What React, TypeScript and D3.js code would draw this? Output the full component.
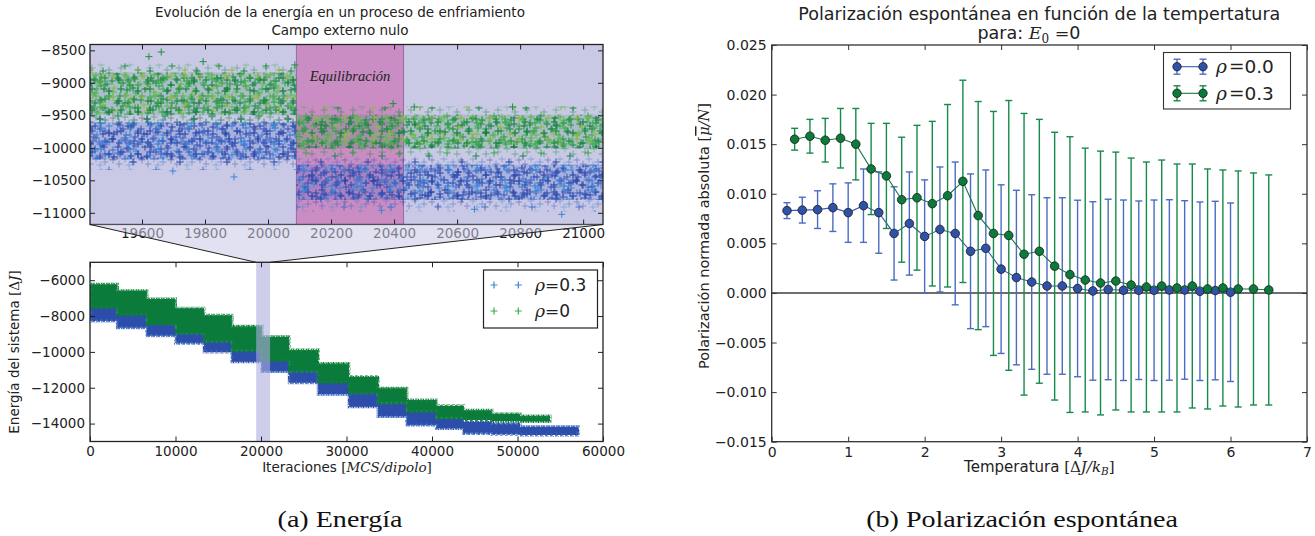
import React, { useEffect, useRef } from 'react'
import * as d3 from 'd3'

// ---------- (a) Energía: curva completa, escalones ----------
const stepStart = [0, 3200, 6650, 10000, 13350, 16600, 20100, 23300, 26700, 30300, 33700, 37050, 40500, 43700, 47000, 50300, 53800]
const greenEnd = 53800
const blueEnd = 57100
const greenHi = [-6230, -6590, -7050, -7560, -7950, -8570, -9150, -9900, -10650, -11380, -12030, -12680, -13000, -13250, -13450, -13580]
const greenLo = [-7540, -7940, -8460, -8960, -9400, -9950, -10500, -11080, -11720, -12300, -12870, -13340, -13700, -13800, -13850, -13880]
const blueHi = [-7300, -7700, -8200, -8700, -9150, -9700, -10250, -10850, -11500, -12100, -12650, -13150, -13650, -13900, -14000, -14170, -14170]
const blueLo = [-8280, -8650, -9100, -9520, -10000, -10550, -11100, -11720, -12370, -13060, -13600, -14080, -14270, -14550, -14600, -14640, -14640]

// ---------- (a) Energía: ampliación ----------
const zoomStart = [19435, 20090]
const zoomEnd = 21063
const equilStart = 20090
const equilEnd = 20430
const greenInHi = [-8840, -9490]
const greenInLo = [-9500, -10010]
const greenOutHi = [-8700, -9360]
const greenOutLo = [-9620, -10150]
const blueInHi = [-9610, -10260]
const blueInLo = [-10180, -10800]
const blueOutHi = [-9420, -10150]
const blueOutLo = [-10340, -10980]
const greenOutX = [19622, 19661, 19794, 20085, 20397, 20464, 20776]
const greenOutY = [-8597, -8525, -8674, -8725, -9320, -9371, -9371]
const blueOutX = [19698, 19892, 20360, 20655, 20932]
const blueOutY = [-10356, -10448, -10962, -10946, -11023]

const zoomXTicks = [19600, 19800, 20000, 20200, 20400, 20600, 20800, 21000]
const zoomYTicks = [-11000, -10500, -10000, -9500, -9000, -8500]
const fullXTicks = [0, 10000, 20000, 30000, 40000, 50000, 60000]
const fullYTicks = [-14000, -12000, -10000, -8000, -6000]

// ---------- (b) Polarización ----------
const tempBlue = [0.2, 0.4, 0.6, 0.8, 1.0, 1.2, 1.4, 1.6, 1.8, 2.0, 2.2, 2.4, 2.6, 2.8, 3.0, 3.2, 3.4, 3.6, 3.8, 4.0, 4.2, 4.4, 4.6, 4.8, 5.0, 5.2, 5.4, 5.6, 5.8, 6.0]
const polBlue = [0.0083, 0.00835, 0.0084, 0.0086, 0.0081, 0.0088, 0.0081, 0.006, 0.007, 0.0057, 0.0064, 0.006, 0.0042, 0.0045, 0.0024, 0.00155, 0.0011, 0.0007, 0.0007, 0.00045, 0.0002, 0.00035, 0.00027, 0.00027, 0.00027, 0.0003, 0.0003, 0.00017, 0.00024, 0.00007]
const errBlue = [0.0008, 0.0013, 0.0019, 0.0024, 0.003, 0.0037, 0.0041, 0.0047, 0.0052, 0.0057, 0.0063, 0.0072, 0.0078, 0.0079, 0.0085, 0.0088, 0.0088, 0.0089, 0.0089, 0.0089, 0.009, 0.0091, 0.0091, 0.009, 0.0091, 0.0091, 0.009, 0.009, 0.009, 0.009]
const tempGreen = [0.3, 0.5, 0.7, 0.9, 1.1, 1.3, 1.5, 1.7, 1.9, 2.1, 2.3, 2.5, 2.7, 2.9, 3.1, 3.3, 3.5, 3.7, 3.9, 4.1, 4.3, 4.5, 4.7, 4.9, 5.1, 5.3, 5.5, 5.7, 5.9, 6.1, 6.3, 6.5]
const polGreen = [0.0155, 0.0158, 0.0154, 0.0156, 0.015, 0.0125, 0.0118, 0.0094, 0.0096, 0.009, 0.0098, 0.01125, 0.0078, 0.006, 0.0058, 0.0039, 0.0042, 0.0027, 0.00185, 0.0013, 0.001, 0.0012, 0.0008, 0.0006, 0.0007, 0.0005, 0.0007, 0.0004, 0.0005, 0.0004, 0.0004, 0.0003]
const errGreen = [0.0011, 0.0017, 0.0022, 0.003, 0.0036, 0.0046, 0.0053, 0.0063, 0.0073, 0.0083, 0.0092, 0.0102, 0.0115, 0.0123, 0.0136, 0.0142, 0.0133, 0.0135, 0.0139, 0.0133, 0.0133, 0.013, 0.0128, 0.0126, 0.0127, 0.0125, 0.0123, 0.0121, 0.0119, 0.0119, 0.0117, 0.0116]
const polXTicks = [0, 1, 2, 3, 4, 5, 6, 7]
const polYTicks = [-0.015, -0.01, -0.005, 0, 0.005, 0.01, 0.015, 0.02, 0.025]

const SANS = 'DejaVu Sans, sans-serif'
const SERIF = 'DejaVu Serif, serif'
const TIMES = 'Liberation Serif, serif'

// ejes estilo matplotlib clasico: ticks hacia dentro en los cuatro lados
function frame(g: any, x: any, y: any, xt: number[], yt: number[], fx: any, fy: any, fs: number, col: string, pad: number) {
  const [x0, x1] = x.range()
  const [yb, ytop] = y.range()
  const style = (s: any) => {
    s.select('.domain').remove()
    s.attr('font-family', SANS).attr('font-size', fs).attr('color', col)
    s.selectAll('text').attr('fill', '#222')
  }
  g.append('g').attr('transform', `translate(0,${yb})`)
    .call(d3.axisBottom(x).tickValues(xt).tickSize(-5).tickPadding(pad).tickFormat(fx)).call(style)
  g.append('g').attr('transform', `translate(0,${ytop})`)
    .call(d3.axisTop(x).tickValues(xt).tickSize(-5).tickFormat(() => '')).call(style)
  g.append('g').attr('transform', `translate(${x0},0)`)
    .call(d3.axisLeft(y).tickValues(yt).tickSize(-5).tickPadding(pad).tickFormat(fy)).call(style)
  g.append('g').attr('transform', `translate(${x1},0)`)
    .call(d3.axisRight(y).tickValues(yt).tickSize(-5).tickFormat(() => '')).call(style)
  g.append('rect').attr('x', x0).attr('y', ytop).attr('width', x1 - x0).attr('height', yb - ytop)
    .attr('fill', 'none').attr('stroke', col).attr('stroke-width', 1.3)
}

function plusPattern(defs: any, id: string, w: number, h: number, pos: number[][], colors: string[], arm = 3.5) {
  const p = defs.append('pattern').attr('id', id).attr('width', w).attr('height', h).attr('patternUnits', 'userSpaceOnUse')
  pos.forEach(([px, py], i) => {
    p.append('path').attr('d', `M${px - arm},${py}h${2 * arm}M${px},${py - arm}v${2 * arm}`)
      .attr('stroke', colors[i % colors.length]).attr('stroke-width', 1).attr('fill', 'none')
  })
}

function stepPoints(start: number[], hi: number[], lo: number[], end: number) {
  const pts = hi.map((h, i) => ({ x: start[i], hi: h, lo: lo[i] }))
  pts.push({ x: end, hi: hi[hi.length - 1], lo: lo[lo.length - 1] })
  return pts
}

function drawEnergy(svg: any, defs: any) {
  const L = 90, R = 603
  const zx = d3.scaleLinear().domain([19435, 21063]).range([L, R])
  const zy = d3.scaleLinear().domain([-11180, -8410]).range([224.5, 44.5])
  const fx = d3.scaleLinear().domain([0, 60000]).range([L, R])
  const fy = d3.scaleLinear().domain([-15000, -5000]).range([441.5, 262.3])

  // texturas de cruces (marcadores '+')
  const tileA = [[4, 3], [13, 6], [22, 2], [31, 5], [38, 9], [8, 11], [18, 13], [27, 10], [35, 16], [3, 19], [12, 21], [21, 18], [30, 23], [39, 25], [7, 27], [17, 26], [25, 26]]
  const tileB = [[2, 8], [10, 4], [19, 9], [27, 3], [6, 16], [15, 19], [24, 14], [31, 20], [29, 11]]
  const tileC = [[5, 5], [14, 2], [22, 7], [9, 12], [18, 15], [26, 13], [3, 17], [13, 18]]
  const tileS = [[6, 8], [24, 5], [39, 14], [15, 22], [31, 29], [44, 33], [9, 34]]
  const edge = [[1, 1], [3.5, 3], [1.5, 5], [4, 6.5]]
  const gCols = ['#178a3c', '#3aaa4a', '#0f7a36', '#62b84e', '#24933f', '#8fb84a']
  const bCols = ['#3150b4', '#3a86d6', '#2a45a6', '#4a70c8', '#2f5cc0', '#2740a0']
  plusPattern(defs, 'gA', 41, 29, tileA, gCols)
  plusPattern(defs, 'gB', 33, 23, tileB, gCols)
  plusPattern(defs, 'gC', 29, 21, tileC, gCols)
  plusPattern(defs, 'gS', 47, 37, tileS, gCols)
  plusPattern(defs, 'bA', 41, 29, tileA, bCols)
  plusPattern(defs, 'bB', 33, 23, tileB, bCols)
  plusPattern(defs, 'bC', 29, 21, tileC, bCols)
  plusPattern(defs, 'bS', 47, 37, tileS, bCols)
  plusPattern(defs, 'gE', 5, 7.5, edge, ['#0b7b3c', '#0e7e3d', '#1f9044', '#0b7b3c'], 2)
  plusPattern(defs, 'bE', 5, 7.5, edge, ['#2c4daa', '#2c4daa', '#3a78cc', '#2c4daa'], 2)
  defs.append('clipPath').attr('id', 'clipZoom').append('rect')
    .attr('x', L).attr('y', 44.5).attr('width', R - L).attr('height', 180)
  defs.append('clipPath').attr('id', 'clipFull').append('rect')
    .attr('x', L).attr('y', 262.3).attr('width', R - L).attr('height', 179.2)

  // conector entre la banda y la ampliación
  const conn = svg.append('g')
  conn.append('path')
    .attr('d', `M${L},${zy.range()[0]}L${fx(zoomStart[0])},${fy.range()[1]}L${fx(zoomEnd)},${fy.range()[1]}L${R},${zy.range()[0]}Z`)
    .attr('fill', '#c8c8e6').attr('opacity', 0.55)

  const gz = svg.append('g')
  const pz = gz.append('g').attr('clip-path', 'url(#clipZoom)')
  pz.append('rect').attr('x', L).attr('y', 44.5).attr('width', R - L).attr('height', 180).attr('fill', '#c9c9e6')
  pz.append('rect').attr('x', zx(equilStart)).attr('y', 44.5).attr('width', zx(equilEnd) - zx(equilStart)).attr('height', 180)
    .attr('fill', '#c98cc3').attr('stroke', '#9868a6').attr('stroke-width', 1)

  const zArea = d3.area<any>().curve(d3.curveStepAfter).x((d) => zx(d.x)).y0((d) => zy(d.lo)).y1((d) => zy(d.hi))
  const band = (hi: number[], lo: number[], fill: string, op: number) =>
    pz.append('path').datum(stepPoints(zoomStart, hi, lo, zoomEnd)).attr('d', zArea).attr('fill', fill).attr('opacity', op)
  band(blueOutHi, blueOutLo, 'url(#bS)', 1)
  band(blueOutHi, blueOutLo, 'url(#bC)', 0.45)
  band(blueInHi, blueInLo, '#3354b8', 0.2)
  band(blueInHi, blueInLo, 'url(#bB)', 1)
  band(blueInHi, blueInLo, 'url(#bA)', 1)
  band(blueInHi, blueInLo, 'url(#bC)', 1)
  band(greenOutHi, greenOutLo, 'url(#gS)', 1)
  band(greenOutHi, greenOutLo, 'url(#gC)', 0.45)
  band(greenInHi, greenInLo, '#1c8f40', 0.18)
  band(greenInHi, greenInLo, 'url(#gB)', 1)
  band(greenInHi, greenInLo, 'url(#gA)', 1)
  band(greenInHi, greenInLo, 'url(#gC)', 1)
  const plus = (g: any, xs: number[], ys: number[], sx: any, sy: any, col: string) =>
    g.selectAll(null).data(xs).join('path')
      .attr('d', (d: number, i: number) => `M${sx(d) - 3.5},${sy(ys[i])}h7M${sx(d)},${sy(ys[i]) - 3.5}v7`)
      .attr('stroke', col).attr('stroke-width', 1).attr('fill', 'none')
  plus(pz, blueOutX, blueOutY, zx, zy, '#3a86d6')
  plus(pz, greenOutX, greenOutY, zx, zy, '#1f8f3c')

  pz.append('text').attr('x', zx((equilStart + equilEnd) / 2)).attr('y', 81).attr('text-anchor', 'middle')
    .attr('font-family', TIMES).attr('font-style', 'italic').attr('font-size', 14.5).attr('fill', '#222').text('Equilibración')

  frame(gz, zx, zy, zoomXTicks, zoomYTicks, d3.format('d'), d3.format('d'), 13.5, '#222', 4)

  conn.raise()
  conn.append('path').attr('d', `M${L},${zy.range()[0]}L${fx(zoomStart[0])},${fy.range()[1]}`).attr('stroke', '#222').attr('stroke-width', 1)
  conn.append('path').attr('d', `M${R},${zy.range()[0]}L${fx(zoomEnd)},${fy.range()[1]}`).attr('stroke', '#222').attr('stroke-width', 1)

  // ---- curva completa ----
  const gf = svg.append('g')
  const pf = gf.append('g').attr('clip-path', 'url(#clipFull)')
  const fArea = d3.area<any>().curve(d3.curveStepAfter).x((d) => fx(d.x)).y0((d) => fy(d.lo)).y1((d) => fy(d.hi))
  pf.append('path').datum(stepPoints(stepStart, blueHi, blueLo, blueEnd)).attr('d', fArea)
    .attr('fill', '#2c4daa').attr('stroke', 'url(#bE)').attr('stroke-width', 3)
  pf.append('path').datum(stepPoints(stepStart, greenHi, greenLo, greenEnd)).attr('d', fArea)
    .attr('fill', '#0b7b3c').attr('stroke', 'url(#gE)').attr('stroke-width', 3)
  pf.append('rect').attr('x', fx(zoomStart[0])).attr('y', 262.3).attr('width', fx(zoomEnd) - fx(zoomStart[0])).attr('height', 179.2)
    .attr('fill', '#aeaede').attr('opacity', 0.6)

  frame(gf, fx, fy, fullXTicks, fullYTicks, d3.format('d'), d3.format('d'), 13.5, '#222', 5)

  // leyenda
  const lg = gf.append('g')
  lg.append('rect').attr('x', 483.5).attr('y', 270).attr('width', 114).attr('height', 58)
    .attr('fill', '#fff').attr('stroke', '#222').attr('stroke-width', 1.2)
  const rows = [{ y: 285, c: '#3a86d6', t: '0.3' }, { y: 311, c: '#3cb04a', t: '0' }]
  rows.forEach((r) => {
    ;[494, 518.3].forEach((px) => lg.append('path').attr('d', `M${px - 3.5},${r.y}h7M${px},${r.y - 3.5}v7`).attr('stroke', r.c).attr('stroke-width', 1.2))
    const t = lg.append('text').attr('x', 535).attr('y', r.y + 6).attr('font-size', 17).attr('fill', '#222')
    t.append('tspan').attr('font-family', SERIF).attr('font-style', 'italic').text('ρ')
    t.append('tspan').attr('font-family', SERIF).text('=')
    t.append('tspan').attr('font-family', SANS).text(r.t)
  })

  // títulos y etiquetas
  const title = svg.append('text').attr('text-anchor', 'middle').attr('font-family', SANS).attr('font-size', 13.5).attr('fill', '#222')
  title.append('tspan').attr('x', 340).attr('y', 17).text('Evolución de la energía en un proceso de enfriamiento')
  title.append('tspan').attr('x', 340).attr('y', 35).text('Campo externo nulo')

  const xl = svg.append('text').attr('x', 347).attr('y', 472).attr('text-anchor', 'middle').attr('font-family', SANS).attr('font-size', 13.5).attr('fill', '#222')
  xl.append('tspan').text('Iteraciones ')
  xl.append('tspan').attr('font-family', SERIF).text('[')
  xl.append('tspan').attr('font-family', SERIF).attr('font-style', 'italic').text('MCS/dipolo')
  xl.append('tspan').attr('font-family', SERIF).text(']')

  const yl = svg.append('text').attr('transform', 'translate(19,352) rotate(-90)').attr('text-anchor', 'middle')
    .attr('font-family', SANS).attr('font-size', 13.5).attr('fill', '#222')
  yl.append('tspan').text('Energía del sistema ')
  yl.append('tspan').attr('font-family', SERIF).text('[Δ')
  yl.append('tspan').attr('font-family', SERIF).attr('font-style', 'italic').text('J')
  yl.append('tspan').attr('font-family', SERIF).text(']')
}

function drawPolar(svg: any) {
  const L = 771.7, R = 1307
  const x = d3.scaleLinear().domain([0, 7]).range([L, R])
  const y = d3.scaleLinear().domain([-0.015, 0.025]).range([441.7, 45])
  const cx0 = (L + R) / 2
  const g = svg.append('g')

  g.append('line').attr('x1', x(0)).attr('x2', x(7)).attr('y1', y(0)).attr('y2', y(0)).attr('stroke', '#6e6e6e').attr('stroke-width', 2)

  const series = (ts: number[], vs: number[], es: number[], barCol: string, lineCol: string, dotCol: string) => {
    const s = g.append('g')
    ts.forEach((t, i) => {
      const cx = x(t), top = y(vs[i] + es[i]), bot = y(vs[i] - es[i])
      s.append('line').attr('x1', cx).attr('x2', cx).attr('y1', top).attr('y2', bot).attr('stroke', barCol).attr('stroke-width', 1.4)
      ;[top, bot].forEach((yy) => s.append('line').attr('x1', cx - 3.5).attr('x2', cx + 3.5).attr('y1', yy).attr('y2', yy).attr('stroke', barCol).attr('stroke-width', 1.4))
    })
    s.append('path').datum(ts).attr('d', d3.line<number>().x((d) => x(d)).y((d, i) => y(vs[i])))
      .attr('fill', 'none').attr('stroke', lineCol).attr('stroke-width', 1.1)
    s.selectAll('circle').data(ts).join('circle').attr('cx', (d: number) => x(d)).attr('cy', (d: number, i: number) => y(vs[i]))
      .attr('r', 4.3).attr('fill', dotCol).attr('stroke', '#1b1b1b').attr('stroke-width', 0.8)
  }
  series(tempBlue, polBlue, errBlue, '#4a6cc2', '#3a5ab2', '#2f52a8')
  series(tempGreen, polGreen, errGreen, '#17894a', '#137a3f', '#0b7a3b')

  frame(g, x, y, polXTicks, polYTicks, d3.format('d'), d3.format('.3f'), 14, '#333', 5)

  // leyenda
  const lg = g.append('g')
  lg.append('rect').attr('x', 1163.5).attr('y', 52.5).attr('width', 127).attr('height', 56.5)
    .attr('fill', '#fff').attr('stroke', '#333').attr('stroke-width', 1.1)
  const rows = [{ y: 66.7, bar: '#4a6cc2', line: '#3a5ab2', dot: '#2f52a8', t: '0.0' }, { y: 93.3, bar: '#17894a', line: '#137a3f', dot: '#0b7a3b', t: '0.3' }]
  rows.forEach((r) => {
    lg.append('line').attr('x1', 1177).attr('x2', 1203).attr('y1', r.y).attr('y2', r.y).attr('stroke', r.line).attr('stroke-width', 1.1)
    ;[1177, 1203].forEach((px) => {
      lg.append('line').attr('x1', px).attr('x2', px).attr('y1', r.y - 7.5).attr('y2', r.y + 7.5).attr('stroke', r.bar).attr('stroke-width', 1.4)
      ;[r.y - 7.5, r.y + 7.5].forEach((yy) => lg.append('line').attr('x1', px - 3.5).attr('x2', px + 3.5).attr('y1', yy).attr('y2', yy).attr('stroke', r.bar).attr('stroke-width', 1.4))
      lg.append('circle').attr('cx', px).attr('cy', r.y).attr('r', 4.2).attr('fill', r.dot).attr('stroke', '#1b1b1b').attr('stroke-width', 0.8)
    })
    const t = lg.append('text').attr('x', 1216).attr('y', r.y + 6.5).attr('font-size', 18.5).attr('fill', '#222')
    t.append('tspan').attr('font-family', SERIF).attr('font-style', 'italic').text('ρ')
    t.append('tspan').attr('font-family', SERIF).attr('dx', 2).text('=')
    t.append('tspan').attr('font-family', SANS).text(r.t)
  })

  const title = svg.append('text').attr('text-anchor', 'middle').attr('font-family', SANS).attr('font-size', 17.5).attr('fill', '#222')
  title.append('tspan').attr('x', cx0).attr('y', 20).text('Polarización espontánea en función de la tempertatura')
  title.append('tspan').attr('x', 1029).attr('y', 39).text('para:  ')
  title.append('tspan').attr('font-family', SERIF).attr('font-style', 'italic').text('E')
  title.append('tspan').attr('font-family', SERIF).attr('font-size', 12).attr('dy', 3.5).text('0')
  title.append('tspan').attr('font-family', SERIF).attr('dy', -3.5).text(' =')
  title.append('tspan').text('0')

  const xl = svg.append('text').attr('x', cx0).attr('y', 472).attr('text-anchor', 'middle').attr('font-family', SANS).attr('font-size', 15).attr('fill', '#222')
  xl.append('tspan').text('Temperatura ')
  xl.append('tspan').attr('font-family', SERIF).text('[Δ')
  xl.append('tspan').attr('font-family', SERIF).attr('font-style', 'italic').text('J/k')
  xl.append('tspan').attr('font-family', SERIF).attr('font-style', 'italic').attr('font-size', 10.5).attr('dy', 3).text('B')
  xl.append('tspan').attr('font-family', SERIF).attr('dy', -3).text(']')

  const yl = svg.append('text').attr('transform', 'translate(709,236) rotate(-90)').attr('text-anchor', 'middle')
    .attr('font-family', SANS).attr('font-size', 14.5).attr('fill', '#222')
  yl.append('tspan').text('Polarización normada absoluta ')
  yl.append('tspan').attr('font-family', SERIF).text('[')
  yl.append('tspan').attr('font-family', SERIF).attr('font-style', 'italic').attr('text-decoration', 'overline').text('μ')
  yl.append('tspan').attr('font-family', SERIF).attr('font-style', 'italic').text('/N')
  yl.append('tspan').attr('font-family', SERIF).text(']')
}

function drawCaptions(svg: any) {
  const cap = (x: number, s: string) =>
    svg.append('text').attr('transform', `translate(${x},527) scale(1.17,1)`).attr('text-anchor', 'middle')
      .attr('font-family', TIMES).attr('font-size', 24).attr('fill', '#111').text(s)
  cap(340, '(a) Energía')
  cap(1022, '(b) Polarización espontánea')
}

export default function App() {
  const ref = useRef<SVGSVGElement>(null)
  useEffect(() => {
    const svg = d3.select(ref.current)
    svg.selectAll('*').remove()
    const defs = svg.append('defs')
    drawEnergy(svg, defs)
    drawPolar(svg)
    drawCaptions(svg)
  }, [])
  return <svg ref={ref} width={1315} height={536} style={{ position: 'absolute', left: 0, top: 0, background: '#fff' }} />
}
